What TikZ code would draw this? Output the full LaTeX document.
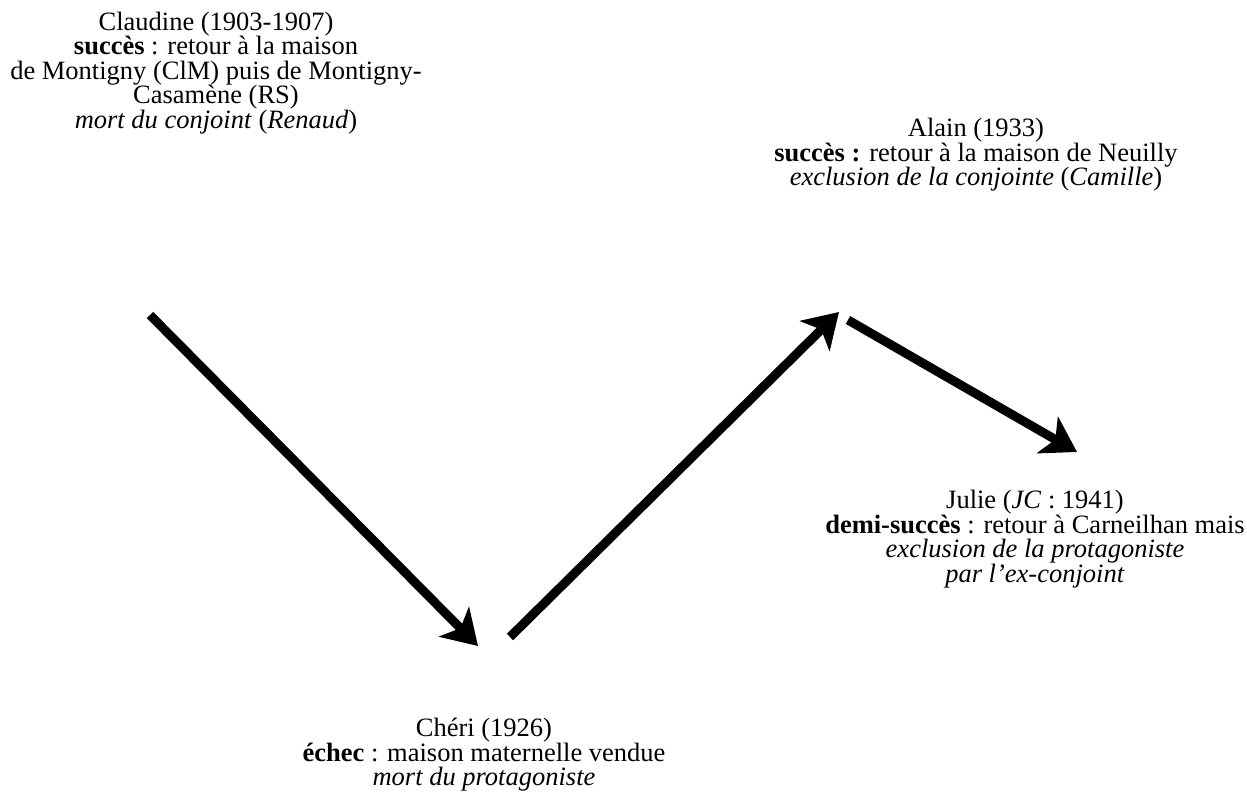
\documentclass[tikz,border=0pt]{standalone}
\usepackage{fontspec}
\setmainfont{Liberation Serif}
\usetikzlibrary{arrows.meta}
\tikzset{
  lbl/.style={align=center, inner sep=0pt, font=\fontsize{26.5}{24.5}\selectfont},
  bigarrow/.style={line width=9pt, -{Stealth[length=34pt,width=42pt,inset=9pt]}}
}
\begin{document}
\begin{tikzpicture}[x=1pt,y=-1pt]
\useasboundingbox (0,0) rectangle (1247,798);
\node[lbl] (claudine) at (216,73) {Claudine (1903-1907)\\ \textbf{succès} : retour à la maison\\ de Montigny (ClM) puis de Montigny-\\ Casamène (RS)\\ \textit{mort du conjoint} (\textit{Renaud})};
\node[lbl] (alain) at (976,155) {Alain (1933)\\ \textbf{succès :} retour à la maison de Neuilly\\ \textit{exclusion de la conjointe} (\textit{Camille})};
\node[lbl] (julie) at (1035,539) {Julie (\textit{JC} : 1941)\\ \textbf{demi-succès} : retour à Carneilhan mais\\ \textit{exclusion de la protagoniste}\\ \textit{par l’ex-conjoint}};
\node[lbl] (cheri) at (484,755) {Chéri (1926)\\ \textbf{échec} : maison maternelle vendue\\ \textit{mort du protagoniste}};
\coordinate (a1s) at (150,315);
\coordinate (a1e) at (478,646);
\coordinate (a2s) at (510,637);
\coordinate (a2e) at (839,312);
\coordinate (a3s) at (848,320);
\coordinate (a3e) at (1077,452);
\draw[bigarrow] (a1s) -- (a1e);
\draw[bigarrow] (a2s) -- (a2e);
\draw[bigarrow] (a3s) -- (a3e);
\end{tikzpicture}
\end{document}
